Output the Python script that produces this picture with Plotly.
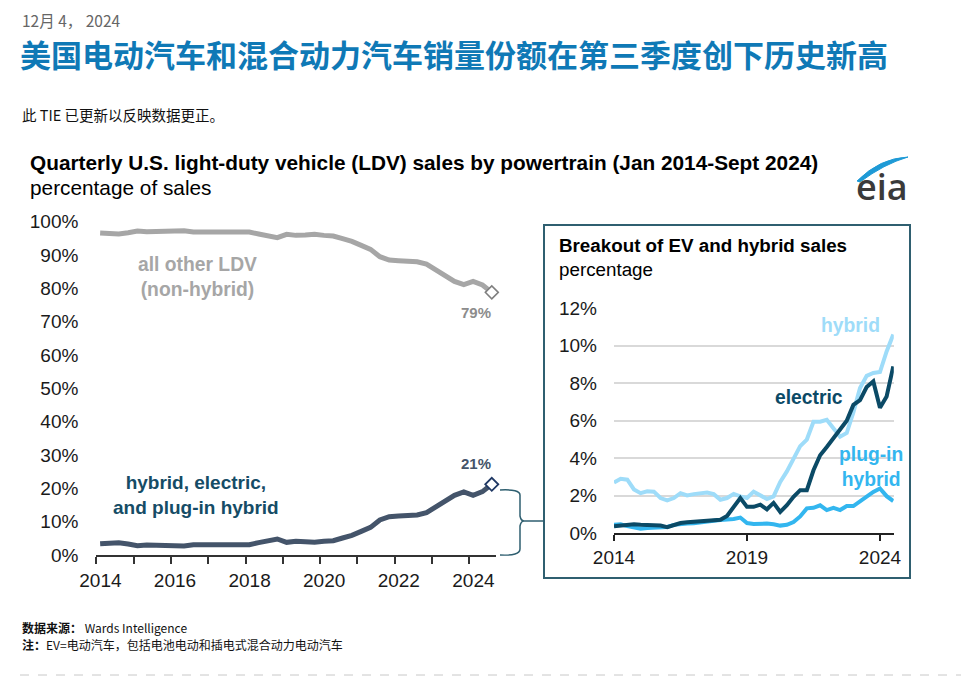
import plotly.graph_objects as go

W, H = 961, 683

# ---------------- data ----------------
start_year = 2014
n_quarters = 43  # Jan 2014 - Sept 2024

# share of LDV sales, % (main chart)
combined = [3.4, 3.6, 3.7, 3.3, 2.8, 3.0, 2.9, 2.8, 2.5, 2.7, 3.1, 3.1, 3.1, 3.2, 3.3, 3.4,
            3.1, 3.7, 4.4, 4.8, 3.8, 4.1, 4.0, 3.8, 4.1, 4.3, 5.1, 5.9, 7.1, 8.3, 10.5, 11.5,
            11.7, 12.0, 12.0, 12.7, 14.5, 16.2, 17.9, 18.9, 17.9, 19.0, 21.2]
all_other = [96.6, 96.4, 96.3, 96.7, 97.2, 97.0, 97.1, 97.2, 97.5, 97.3, 96.9, 96.9, 96.9, 96.8,
             96.7, 96.6, 96.9, 96.3, 95.6, 95.2, 96.2, 95.9, 96.0, 96.2, 95.9, 95.7, 94.9, 94.1,
             92.9, 91.7, 89.5, 88.5, 88.3, 88.0, 88.0, 87.3, 85.5, 83.8, 82.1, 81.1, 82.1, 81.0, 78.8]

# breakout, % (inset)
hybrid = [2.71, 2.91, 2.86, 2.34, 2.14, 2.24, 2.22, 1.88, 1.76, 1.88, 2.14, 2.02, 2.09, 2.14,
          2.17, 2.09, 1.79, 1.88, 2.10, 1.97, 1.88, 2.22, 2.05, 1.83, 1.97, 2.74, 3.30, 3.95,
          4.65, 5.00, 5.95, 5.95, 6.05, 5.60, 5.15, 5.35, 6.45, 7.75, 8.40, 8.55, 8.60, 9.70, 10.6]
electric = [0.38, 0.41, 0.48, 0.48, 0.45, 0.45, 0.41, 0.41, 0.33, 0.45, 0.55, 0.59, 0.62, 0.62,
            0.69, 0.72, 0.72, 0.93, 1.41, 1.88, 1.41, 1.41, 1.53, 1.28, 1.62, 1.14, 1.50, 1.95,
            2.30, 2.30, 3.36, 4.16, 4.60, 5.04, 5.49, 6.00, 6.85, 7.10, 7.80, 8.10, 6.70, 7.30, 8.90]
plugin = [0.45, 0.48, 0.38, 0.29, 0.24, 0.28, 0.31, 0.31, 0.34, 0.45, 0.50, 0.52, 0.53, 0.59,
          0.62, 0.67, 0.71, 0.72, 0.76, 0.84, 0.55, 0.50, 0.52, 0.52, 0.48, 0.41, 0.45, 0.60,
          0.90, 1.33, 1.36, 1.49, 1.24, 1.36, 1.24, 1.45, 1.45, 1.68, 1.95, 2.21, 2.39, 1.98, 1.72]

main_y_ticks = [0, 10, 20, 30, 40, 50, 60, 70, 80, 90, 100]
main_y_labels = ["%d%%" % v for v in main_y_ticks]
main_x_ticks = list(range(2014, 2025))
main_x_labels = [str(y) if y % 2 == 0 else "" for y in main_x_ticks]
inset_y_ticks = [0, 2, 4, 6, 8, 10, 12]
inset_y_labels = ["%d%%" % v for v in inset_y_ticks]
inset_x_ticks = [2014, 2019, 2024]
inset_x_labels = [str(v) for v in inset_x_ticks]

# quarter positions (start of quarter; main chart plots mid-quarter)
q_start = [start_year + i / 4 for i in range(n_quarters)]
q_mid = [q + 0.1 for q in q_start]

# ---------------- helpers ----------------
def px(x):
    return x / W

def py(y):
    return 1 - y / H

FONT = "Liberation Sans, Arial, sans-serif"
CJK = "Noto Sans CJK SC, sans-serif"

C_GRAY = "#a6a6a6"
C_COMB = "#44546a"
C_HYB = "#9edcf9"
C_EV = "#0b4a66"
C_PHEV = "#33b6ef"
C_TEAL = "#2f5f70"

fig = go.Figure()

# main chart
fig.add_trace(go.Scatter(x=q_mid, y=all_other, mode="lines", line=dict(color=C_GRAY, width=5),
                         xaxis="x", yaxis="y", hoverinfo="skip"))
fig.add_trace(go.Scatter(x=q_mid, y=combined, mode="lines", line=dict(color=C_COMB, width=5),
                         xaxis="x", yaxis="y", hoverinfo="skip"))
fig.add_trace(go.Scatter(x=[q_mid[-1]], y=[all_other[-1]], mode="markers",
                         marker=dict(symbol="diamond", size=10, color="white",
                                     line=dict(color="#7f7f7f", width=1.5)),
                         xaxis="x", yaxis="y", cliponaxis=False))
fig.add_trace(go.Scatter(x=[q_mid[-1]], y=[combined[-1]], mode="markers",
                         marker=dict(symbol="diamond", size=10, color="white",
                                     line=dict(color="#1f3864", width=1.8)),
                         xaxis="x", yaxis="y", cliponaxis=False))

# inset
fig.add_trace(go.Scatter(x=q_start, y=hybrid, mode="lines", line=dict(color=C_HYB, width=4),
                         xaxis="x2", yaxis="y2"))
fig.add_trace(go.Scatter(x=q_start, y=plugin, mode="lines", line=dict(color=C_PHEV, width=4),
                         xaxis="x2", yaxis="y2"))
fig.add_trace(go.Scatter(x=q_start, y=electric, mode="lines", line=dict(color=C_EV, width=4),
                         xaxis="x2", yaxis="y2"))

tickfont = dict(family=FONT, size=19, color="#1a1a1a")

fig.update_layout(
    template="none",
    width=W, height=H,
    margin=dict(l=0, r=0, t=0, b=0, pad=0),
    paper_bgcolor="white", plot_bgcolor="rgba(0,0,0,0)",
    showlegend=False,
    xaxis=dict(domain=[px(96.4), px(495.5)], range=[2014, 2024.7],
               tickmode="array", tickvals=main_x_ticks, ticktext=main_x_labels,
               ticks="outside", ticklen=7, tickwidth=1.5, tickcolor="#333",
               showline=True, linecolor="#333", linewidth=2, automargin=False,
               ticklabelshift=4,
               showgrid=False, zeroline=False, tickfont=tickfont, anchor="y"),
    yaxis=dict(domain=[py(555), py(221.7)], range=[0, 100],
               tickmode="array", tickvals=main_y_ticks, ticktext=main_y_labels,
               showgrid=False, zeroline=False, showline=False, ticks="", automargin=False,
               tickfont=tickfont, ticklabelstandoff=17, anchor="x"),
    xaxis2=dict(domain=[px(614), px(893.8)], range=[2014, 2024.52],
                tickmode="array", tickvals=inset_x_ticks, ticktext=inset_x_labels,
                ticks="outside", ticklen=6, tickwidth=1.5, automargin=False,
                tickcolor="#222", showline=True, linecolor="#222", linewidth=2,
                showgrid=False, zeroline=False, tickfont=tickfont, anchor="y2"),
    yaxis2=dict(domain=[py(533.3), py(308.3)], range=[0, 12],
                tickmode="array", tickvals=inset_y_ticks, ticktext=inset_y_labels,
                showgrid=True, gridcolor="#d9d9d9", gridwidth=1.5, automargin=False,
                zeroline=False, showline=False, ticks="",
                tickfont=tickfont, ticklabelstandoff=16, anchor="x2"),
)

shapes = []
# inset border
shapes.append(dict(type="rect", xref="paper", yref="paper",
                   x0=px(544), x1=px(910), y0=py(578), y1=py(225),
                   line=dict(color=C_TEAL, width=2), fillcolor="rgba(0,0,0,0)", layer="below"))

# curly bracket linking main chart to inset
br = ("M {a},{b} Q {c},{d} {e},{f} L {g},{h} Q {i},{j} {k},{l} L {m},{n} "
      "M {k},{l} Q {i},{o} {g},{p} L {q},{r} Q {c},{s} {a},{t}").format(
    a=px(500), b=py(490), c=px(520), d=py(489), e=px(520), f=py(495),
    g=px(520), h=py(516), i=px(521), j=py(521), k=px(524), l=py(521),
    m=px(545), n=py(521), o=py(521), p=py(526), q=px(520), r=py(549),
    s=py(556), t=py(555))
shapes.append(dict(type="path", xref="paper", yref="paper", path=br,
                   line=dict(color=C_TEAL, width=1.5)))

# eia logo swoosh
sw = "M {},{} Q {},{} {},{} Q {},{} {},{} Z".format(
    px(857), py(181), px(880), py(158), px(908), py(157),
    px(884), py(164), px(860), py(182))
shapes.append(dict(type="path", xref="paper", yref="paper", path=sw,
                   line=dict(color="#1e9ad6", width=1), fillcolor="#1e9ad6"))

# dashed footer line
shapes.append(dict(type="line", xref="paper", yref="paper",
                   x0=px(20), x1=1, y0=py(675), y1=py(675),
                   line=dict(color="#c8c8c8", width=1, dash="dash")))
fig.update_layout(shapes=shapes)

ann = []
def txt(text, x, y, size, color="#000", family=FONT, xanchor="left", bold=False, weight=None):
    f = dict(family=family, size=size, color=color)
    if weight is not None:
        f["weight"] = weight
    ann.append(dict(text=("<b>%s</b>" % text) if bold else text, x=px(x), y=py(y),
                    xref="paper", yref="paper", xanchor=xanchor, yanchor="middle",
                    showarrow=False, font=f, align="center" if xanchor == "center" else "left"))

txt("12月 4， 2024", 20, 20, 15.5, "#666666", CJK)
txt("美国电动汽车和混合动力汽车销量份额在第三季度创下历史新高", 18, 53, 31, "#0f79b6", CJK, bold=True)
txt("此 TIE 已更新以反映数据更正。", 20, 115, 14.5, "#111", CJK)

txt("Quarterly U.S. light-duty vehicle (LDV) sales by powertrain (Jan 2014-Sept 2024)", 28, 163, 20.8, "#000", bold=True)
txt("percentage of sales", 28, 187, 20.8, "#000")
txt("eia", 882, 186, 36, "#3a3a3a", "Open Sans, sans-serif", xanchor="center", weight=600)

txt("all other LDV<br>(non-hybrid)", 197, 277, 19.3, C_GRAY, xanchor="center", bold=True)
txt("79%", 476, 313, 15, "#8c8c8c", xanchor="center", bold=True)
txt("hybrid, electric,<br>and plug-in hybrid", 196, 495, 19, "#154c66", xanchor="center", bold=True)
txt("21%", 476, 463, 15, C_COMB, xanchor="center", bold=True)

txt("Breakout of EV and hybrid sales", 557, 246, 18.8, "#000", bold=True)
txt("percentage", 557, 269, 18.8, "#000")
txt("hybrid", 850, 325, 19.3, C_HYB, xanchor="center", bold=True)
txt("electric", 809, 397, 19.3, C_EV, xanchor="center", bold=True)
txt("plug-in<br>hybrid", 871, 467, 19.3, C_PHEV, xanchor="center", bold=True)

txt("<b>数据来源：</b> Wards Intelligence", 20, 627, 12, "#111", CJK)
txt("<b>注：</b>EV=电动汽车，包括电池电动和插电式混合动力电动汽车", 20, 644, 12, "#111", CJK)

fig.update_layout(annotations=ann)

fig.write_html("out.html", config={"displayModeBar": False},
               post_script="document.body.style.margin='0';document.body.style.overflow='hidden';")
